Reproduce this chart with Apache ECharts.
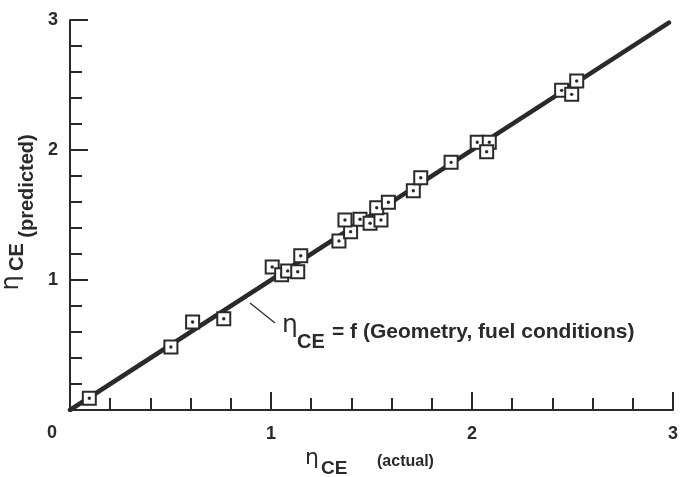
<!DOCTYPE html>
<html>
<head>
<meta charset="utf-8">
<script src="https://cdn.jsdelivr.net/npm/echarts@6/dist/echarts.min.js"></script>
<style>
html,body{margin:0;padding:0;background:#fff;}
#chart{width:688px;height:477px;}
</style>
</head>
<body>
<div id="chart"></div>
<script>
// Measured values (eta_CE actual vs predicted)
const actual = [0.096, 0.502, 0.61, 0.765, 1.006, 1.053, 1.083, 1.133, 1.148,
  1.338, 1.396, 1.368, 1.443, 1.493, 1.547, 1.526, 1.584, 1.708, 1.745,
  1.896, 2.026, 2.086, 2.073, 2.446, 2.496, 2.521];
const predicted = [0.09, 0.485, 0.677, 0.702, 1.10, 1.04, 1.07, 1.064, 1.187,
  1.30, 1.372, 1.462, 1.467, 1.436, 1.462, 1.556, 1.598, 1.687, 1.787,
  1.905, 2.06, 2.06, 1.987, 2.459, 2.428, 2.531];
// Correlation line eta_pred = eta_actual
const fitX = [0, 2.98];
const fitY = [0, 2.98];
const tickValues = [0, 1, 2, 3];

const ink = '#2a2a2a';
const SANS = '"Liberation Sans", Arial, sans-serif';
const points = actual.map((x, i) => [x, predicted[i]]);
const fitLine = fitX.map((x, i) => [x, fitY[i]]);

const chart = echarts.init(document.getElementById('chart'), null, {renderer: 'canvas'});

const axisCommon = {
  type: 'value', min: tickValues[0], max: tickValues[tickValues.length - 1], interval: 1,
  axisLine: {show: true, lineStyle: {color: ink, width: 2}},
  axisTick: {show: true, inside: true, length: 18, lineStyle: {color: ink, width: 2}},
  minorTick: {show: true, splitNumber: 5, length: 12, lineStyle: {color: ink, width: 2}},
  splitLine: {show: false},
  axisLabel: {
    color: ink, fontSize: 18, fontWeight: 'bold', fontFamily: SANS,
    formatter: v => (v === tickValues[0] ? '' : String(v)), showMinLabel: true, showMaxLabel: true
  }
};

function txt(x, y, text, font, align) {
  return {type: 'text', x: x, y: y, silent: true,
    style: {text: text, font: font, fill: ink, align: align || 'left', verticalAlign: 'middle'}};
}
function vtxt(x, y, text, font) {
  return {type: 'text', x: x, y: y, rotation: Math.PI / 2, silent: true,
    style: {text: text, font: font, fill: ink, align: 'center', verticalAlign: 'middle'}};
}

chart.setOption({
  backgroundColor: '#ffffff',
  animation: false,
  grid: {left: 70, right: 15, top: 20, bottom: 67, containLabel: false, outerBoundsMode: 'none'},
  xAxis: Object.assign({}, axisCommon, {
    axisLabel: Object.assign({}, axisCommon.axisLabel, {margin: 15})
  }),
  yAxis: Object.assign({}, axisCommon, {
    axisLabel: Object.assign({}, axisCommon.axisLabel, {margin: 12})
  }),
  graphic: [
    // origin label
    txt(52, 433, String(tickValues[0]), 'bold 18px ' + SANS, 'center'),
    // x-axis title
    txt(305, 458, 'η', '22px "DejaVu Sans", sans-serif'),
    txt(321, 469, 'CE', 'bold 19px ' + SANS),
    txt(377, 462, '(actual)', 'bold 16px ' + SANS),
    // y-axis title (rotated)
    vtxt(12, 283, 'η', '24px "DejaVu Sans", sans-serif'),
    vtxt(17, 257, 'CE', 'bold 20px ' + SANS),
    vtxt(27, 186, '(predicted)', 'bold 20px ' + SANS),
    // annotation
    {type: 'line', silent: true, shape: {x1: 250, y1: 303, x2: 275, y2: 323}, style: {stroke: ink, lineWidth: 1.2}},
    txt(282, 325, 'η', '25px "DejaVu Sans", sans-serif'),
    txt(297, 342, 'CE', 'bold 20px ' + SANS),
    txt(332, 332, '= f (Geometry, fuel conditions)', 'bold 21px ' + SANS)
  ],
  series: [
    {
      type: 'line', data: fitLine, symbol: 'none', silent: true, z: 2,
      lineStyle: {color: ink, width: 4.5, cap: 'round'}
    },
    {
      type: 'custom', data: points, z: 3,
      renderItem: function (params, api) {
        const p = api.coord([api.value(0), api.value(1)]);
        const s = 13;
        return {
          type: 'group',
          children: [
            {type: 'rect', shape: {x: p[0] - s / 2, y: p[1] - s / 2, width: s, height: s},
              style: {fill: '#ffffff', stroke: ink, lineWidth: 2}},
            {type: 'circle', shape: {cx: p[0], cy: p[1], r: 1.7}, style: {fill: ink}}
          ]
        };
      }
    }
  ]
});
</script>
</body>
</html>
